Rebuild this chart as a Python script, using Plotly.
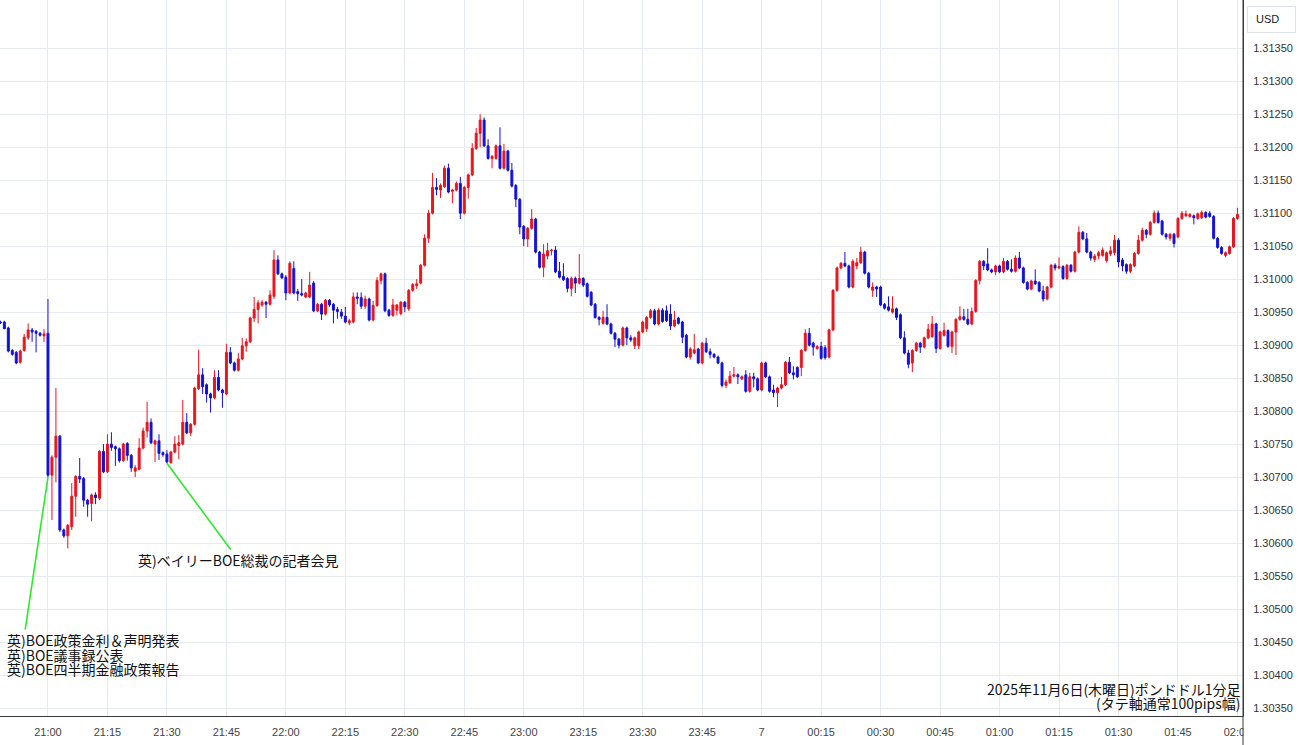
import pandas as pd
import plotly.graph_objects as go

# ---------------- data (GBP/USD 1-minute candles, 2025-11-06 20:48 -> 2025-11-07 02:00) ----------------
start_time = "2025-11-06 20:48"

opens = [
    1.30935, 1.30935, 1.30926, 1.30892, 1.30889, 1.30874, 1.30892, 1.30911, 1.30923, 1.30921,
    1.30918, 1.30914, 1.30918, 1.30703, 1.30730, 1.30762, 1.30620, 1.30611, 1.30625, 1.30671,
    1.30701, 1.30698, 1.30665, 1.30660, 1.30673, 1.30668, 1.30739, 1.30708, 1.30750, 1.30746,
    1.30743, 1.30725, 1.30751, 1.30733, 1.30709, 1.30712, 1.30744, 1.30770, 1.30783, 1.30750,
    1.30755, 1.30737, 1.30735, 1.30722, 1.30738, 1.30748, 1.30750, 1.30783, 1.30767, 1.30780,
    1.30834, 1.30855, 1.30840, 1.30826, 1.30820, 1.30851, 1.30832, 1.30826, 1.30889, 1.30873,
    1.30862, 1.30879, 1.30899, 1.30905, 1.30941, 1.30954, 1.30961, 1.30965, 1.30962, 1.30974,
    1.31029, 1.31008, 1.31003, 1.30979, 1.31016, 1.30981, 1.30978, 1.30973, 1.30973, 1.30994,
    1.30952, 1.30962, 1.30947, 1.30968, 1.30962, 1.30954, 1.30950, 1.30944, 1.30934, 1.30935,
    1.30973, 1.30972, 1.30959, 1.30970, 1.30938, 1.30960, 1.30998, 1.31008, 1.30953, 1.30945,
    1.30953, 1.30948, 1.30965, 1.30955, 1.30983, 1.30990, 1.30994, 1.31021, 1.31062, 1.31100,
    1.31139, 1.31135, 1.31140, 1.31168, 1.31133, 1.31135, 1.31145, 1.31100, 1.31139, 1.31158,
    1.31198, 1.31221, 1.31241, 1.31202, 1.31183, 1.31183, 1.31202, 1.31168, 1.31194, 1.31165,
    1.31142, 1.31121, 1.31080, 1.31061, 1.31077, 1.31091, 1.31041, 1.31018, 1.31035, 1.31043,
    1.31044, 1.31012, 1.31004, 1.31001, 1.30986, 1.31001, 1.30994, 1.31001, 1.30993, 1.30980,
    1.30962, 1.30942, 1.30933, 1.30942, 1.30932, 1.30918, 1.30909, 1.30900, 1.30926, 1.30911,
    1.30899, 1.30899, 1.30920, 1.30925, 1.30942, 1.30952, 1.30932, 1.30953, 1.30952, 1.30947,
    1.30929, 1.30941, 1.30935, 1.30915, 1.30882, 1.30888, 1.30894, 1.30873, 1.30903, 1.30890,
    1.30886, 1.30882, 1.30873, 1.30839, 1.30843, 1.30853, 1.30855, 1.30849, 1.30855, 1.30830,
    1.30852, 1.30849, 1.30832, 1.30873, 1.30852, 1.30832, 1.30828, 1.30835, 1.30840, 1.30874,
    1.30858, 1.30866, 1.30866, 1.30892, 1.30918, 1.30903, 1.30895, 1.30898, 1.30896, 1.30882,
    1.30923, 1.30983, 1.31017, 1.31024, 1.31020, 1.30988, 1.31020, 1.31025, 1.31041, 1.31009,
    1.30983, 1.30988, 1.30988, 1.30962, 1.30958, 1.30950, 1.30955, 1.30946, 1.30911, 1.30888,
    1.30873, 1.30892, 1.30903, 1.30897, 1.30911, 1.30913, 1.30932, 1.30895, 1.30915, 1.30922,
    1.30898, 1.30920, 1.30939, 1.30943, 1.30939, 1.30932, 1.30951, 1.30998, 1.31027, 1.31023,
    1.31014, 1.31011, 1.31020, 1.31011, 1.31027, 1.31015, 1.31012, 1.31032, 1.31017, 1.30995,
    1.30985, 1.30997, 1.30995, 1.30982, 1.30970, 1.30988, 1.31021, 1.31017, 1.31019, 1.31001,
    1.31021, 1.31012, 1.31041, 1.31071, 1.31061, 1.31041, 1.31030, 1.31035, 1.31036, 1.31028,
    1.31038, 1.31040, 1.31059, 1.31029, 1.31022, 1.31012, 1.31020, 1.31039, 1.31059, 1.31074,
    1.31068, 1.31086, 1.31100, 1.31088, 1.31068, 1.31062, 1.31068, 1.31064, 1.31092, 1.31096,
    1.31095, 1.31096, 1.31092, 1.31093, 1.31101, 1.31100, 1.31095, 1.31062, 1.31048, 1.31036,
    1.31039, 1.31049, 1.31092,
]

highs = [
    1.30937, 1.30937, 1.30928, 1.30894, 1.30891, 1.30893, 1.30917, 1.30933, 1.30926, 1.30923,
    1.30920, 1.30924, 1.30970, 1.30733, 1.30835, 1.30764, 1.30622, 1.30629, 1.30691, 1.30703,
    1.30729, 1.30700, 1.30667, 1.30675, 1.30677, 1.30741, 1.30750, 1.30765, 1.30768, 1.30748,
    1.30745, 1.30752, 1.30753, 1.30735, 1.30718, 1.30759, 1.30775, 1.30814, 1.30789, 1.30757,
    1.30765, 1.30739, 1.30741, 1.30740, 1.30762, 1.30764, 1.30817, 1.30797, 1.30782, 1.30837,
    1.30893, 1.30865, 1.30842, 1.30828, 1.30862, 1.30862, 1.30834, 1.30902, 1.30897, 1.30875,
    1.30888, 1.30911, 1.30910, 1.30943, 1.30973, 1.30968, 1.30968, 1.30967, 1.30983, 1.31044,
    1.31036, 1.31010, 1.31006, 1.31027, 1.31027, 1.30985, 1.31000, 1.30981, 1.31011, 1.30997,
    1.30964, 1.30964, 1.30970, 1.30970, 1.30964, 1.30958, 1.30955, 1.30958, 1.30940, 1.30980,
    1.30980, 1.30980, 1.30975, 1.30972, 1.30967, 1.31003, 1.31010, 1.31010, 1.30955, 1.30970,
    1.30962, 1.30967, 1.30967, 1.30985, 1.30994, 1.31000, 1.31023, 1.31068, 1.31105, 1.31161,
    1.31153, 1.31145, 1.31172, 1.31175, 1.31137, 1.31148, 1.31155, 1.31141, 1.31160, 1.31206,
    1.31229, 1.31250, 1.31245, 1.31212, 1.31188, 1.31204, 1.31230, 1.31205, 1.31196, 1.31176,
    1.31144, 1.31123, 1.31082, 1.31079, 1.31106, 1.31093, 1.31043, 1.31053, 1.31055, 1.31046,
    1.31050, 1.31026, 1.31024, 1.31003, 1.31004, 1.31004, 1.31038, 1.31003, 1.30995, 1.30982,
    1.30964, 1.30944, 1.30952, 1.30962, 1.30934, 1.30920, 1.30911, 1.30928, 1.30928, 1.30915,
    1.30913, 1.30922, 1.30937, 1.30944, 1.30955, 1.30955, 1.30956, 1.30956, 1.30960, 1.30962,
    1.30952, 1.30943, 1.30937, 1.30917, 1.30897, 1.30917, 1.30896, 1.30905, 1.30911, 1.30895,
    1.30888, 1.30884, 1.30875, 1.30848, 1.30861, 1.30867, 1.30857, 1.30854, 1.30862, 1.30858,
    1.30858, 1.30851, 1.30875, 1.30875, 1.30854, 1.30840, 1.30837, 1.30852, 1.30876, 1.30882,
    1.30868, 1.30868, 1.30894, 1.30924, 1.30926, 1.30905, 1.30900, 1.30905, 1.30900, 1.30925,
    1.30985, 1.31019, 1.31026, 1.31041, 1.31022, 1.31030, 1.31032, 1.31049, 1.31043, 1.31011,
    1.30995, 1.30990, 1.30990, 1.30964, 1.30974, 1.30974, 1.30957, 1.30948, 1.30921, 1.30893,
    1.30894, 1.30905, 1.30905, 1.30913, 1.30932, 1.30944, 1.30934, 1.30922, 1.30934, 1.30924,
    1.30922, 1.30941, 1.30959, 1.30955, 1.30955, 1.30957, 1.31000, 1.31029, 1.31029, 1.31047,
    1.31016, 1.31022, 1.31022, 1.31032, 1.31029, 1.31030, 1.31036, 1.31041, 1.31019, 1.30997,
    1.30999, 1.31015, 1.30997, 1.30990, 1.30990, 1.31023, 1.31024, 1.31033, 1.31021, 1.31023,
    1.31023, 1.31043, 1.31080, 1.31073, 1.31070, 1.31043, 1.31038, 1.31043, 1.31048, 1.31042,
    1.31050, 1.31067, 1.31062, 1.31032, 1.31024, 1.31024, 1.31041, 1.31067, 1.31078, 1.31076,
    1.31088, 1.31104, 1.31104, 1.31090, 1.31070, 1.31070, 1.31070, 1.31094, 1.31103, 1.31104,
    1.31100, 1.31098, 1.31101, 1.31104, 1.31103, 1.31103, 1.31097, 1.31064, 1.31050, 1.31042,
    1.31051, 1.31094, 1.31108,
]

lows = [
    1.30932, 1.30924, 1.30889, 1.30884, 1.30871, 1.30872, 1.30890, 1.30908, 1.30905, 1.30889,
    1.30913, 1.30905, 1.30700, 1.30635, 1.30692, 1.30617, 1.30608, 1.30592, 1.30620, 1.30640,
    1.30691, 1.30655, 1.30640, 1.30633, 1.30659, 1.30665, 1.30706, 1.30706, 1.30740, 1.30717,
    1.30722, 1.30723, 1.30725, 1.30708, 1.30700, 1.30710, 1.30742, 1.30760, 1.30750, 1.30723,
    1.30726, 1.30731, 1.30721, 1.30720, 1.30736, 1.30727, 1.30748, 1.30765, 1.30762, 1.30778,
    1.30832, 1.30826, 1.30813, 1.30798, 1.30818, 1.30830, 1.30805, 1.30824, 1.30871, 1.30860,
    1.30860, 1.30877, 1.30890, 1.30903, 1.30935, 1.30933, 1.30958, 1.30941, 1.30960, 1.30970,
    1.31006, 1.31000, 1.30968, 1.30977, 1.30977, 1.30967, 1.30974, 1.30971, 1.30971, 1.30950,
    1.30950, 1.30938, 1.30945, 1.30958, 1.30933, 1.30940, 1.30940, 1.30933, 1.30930, 1.30933,
    1.30962, 1.30955, 1.30955, 1.30936, 1.30936, 1.30958, 1.30992, 1.30950, 1.30943, 1.30943,
    1.30945, 1.30945, 1.30950, 1.30952, 1.30981, 1.30985, 1.30992, 1.31019, 1.31055, 1.31098,
    1.31127, 1.31123, 1.31138, 1.31130, 1.31115, 1.31133, 1.31091, 1.31098, 1.31122, 1.31156,
    1.31196, 1.31200, 1.31200, 1.31181, 1.31168, 1.31181, 1.31166, 1.31166, 1.31163, 1.31139,
    1.31109, 1.31068, 1.31050, 1.31049, 1.31075, 1.31039, 1.31016, 1.31003, 1.31030, 1.31036,
    1.31009, 1.31001, 1.30997, 1.30980, 1.30974, 1.30979, 1.30992, 1.30988, 1.30972, 1.30959,
    1.30940, 1.30930, 1.30931, 1.30930, 1.30916, 1.30897, 1.30895, 1.30898, 1.30900, 1.30905,
    1.30894, 1.30894, 1.30918, 1.30920, 1.30940, 1.30930, 1.30930, 1.30934, 1.30935, 1.30923,
    1.30927, 1.30931, 1.30903, 1.30880, 1.30878, 1.30886, 1.30871, 1.30871, 1.30888, 1.30880,
    1.30880, 1.30871, 1.30836, 1.30835, 1.30841, 1.30851, 1.30841, 1.30847, 1.30828, 1.30828,
    1.30836, 1.30830, 1.30830, 1.30850, 1.30828, 1.30821, 1.30806, 1.30833, 1.30838, 1.30856,
    1.30848, 1.30850, 1.30853, 1.30890, 1.30898, 1.30884, 1.30893, 1.30878, 1.30878, 1.30880,
    1.30921, 1.30981, 1.31015, 1.31018, 1.30986, 1.30986, 1.31015, 1.31023, 1.31007, 1.30986,
    1.30973, 1.30973, 1.30959, 1.30954, 1.30951, 1.30948, 1.30938, 1.30909, 1.30886, 1.30865,
    1.30859, 1.30890, 1.30888, 1.30895, 1.30909, 1.30911, 1.30888, 1.30893, 1.30913, 1.30896,
    1.30888, 1.30885, 1.30937, 1.30937, 1.30930, 1.30930, 1.30949, 1.30992, 1.31014, 1.31012,
    1.31009, 1.31006, 1.31009, 1.31009, 1.31013, 1.31010, 1.31010, 1.31015, 1.30993, 1.30983,
    1.30983, 1.30991, 1.30980, 1.30966, 1.30968, 1.30986, 1.31013, 1.31015, 1.30999, 1.30999,
    1.31010, 1.31010, 1.31039, 1.31059, 1.31039, 1.31028, 1.31026, 1.31030, 1.31034, 1.31025,
    1.31035, 1.31036, 1.31018, 1.31012, 1.31008, 1.31009, 1.31018, 1.31037, 1.31057, 1.31062,
    1.31066, 1.31084, 1.31084, 1.31066, 1.31060, 1.31058, 1.31048, 1.31062, 1.31090, 1.31094,
    1.31093, 1.31083, 1.31090, 1.31091, 1.31092, 1.31093, 1.31060, 1.31046, 1.31037, 1.31033,
    1.31037, 1.31047, 1.31090,
]

closes = [
    1.30934, 1.30925, 1.30891, 1.30886, 1.30873, 1.30891, 1.30912, 1.30923, 1.30920, 1.30918,
    1.30915, 1.30917, 1.30703, 1.30730, 1.30762, 1.30620, 1.30611, 1.30627, 1.30671, 1.30701,
    1.30697, 1.30665, 1.30659, 1.30673, 1.30669, 1.30739, 1.30708, 1.30750, 1.30745, 1.30743,
    1.30725, 1.30750, 1.30733, 1.30714, 1.30714, 1.30744, 1.30770, 1.30783, 1.30752, 1.30755,
    1.30736, 1.30734, 1.30723, 1.30738, 1.30750, 1.30752, 1.30783, 1.30767, 1.30780, 1.30835,
    1.30855, 1.30837, 1.30826, 1.30820, 1.30851, 1.30832, 1.30828, 1.30889, 1.30873, 1.30862,
    1.30879, 1.30899, 1.30905, 1.30941, 1.30954, 1.30964, 1.30965, 1.30962, 1.30976, 1.31029,
    1.31008, 1.31002, 1.30979, 1.31024, 1.30979, 1.30978, 1.30976, 1.30979, 1.30991, 1.30952,
    1.30962, 1.30947, 1.30968, 1.30961, 1.30953, 1.30951, 1.30944, 1.30935, 1.30937, 1.30973,
    1.30971, 1.30959, 1.30970, 1.30938, 1.30960, 1.30998, 1.31008, 1.30952, 1.30945, 1.30961,
    1.30961, 1.30965, 1.30958, 1.30983, 1.30992, 1.30993, 1.31021, 1.31062, 1.31100, 1.31139,
    1.31136, 1.31142, 1.31168, 1.31132, 1.31135, 1.31145, 1.31100, 1.31139, 1.31158, 1.31198,
    1.31221, 1.31241, 1.31202, 1.31183, 1.31186, 1.31202, 1.31168, 1.31194, 1.31165, 1.31141,
    1.31121, 1.31079, 1.31061, 1.31077, 1.31091, 1.31041, 1.31018, 1.31038, 1.31043, 1.31044,
    1.31011, 1.31003, 1.30999, 1.30986, 1.31001, 1.30994, 1.31001, 1.30991, 1.30974, 1.30961,
    1.30942, 1.30939, 1.30942, 1.30932, 1.30918, 1.30909, 1.30900, 1.30926, 1.30911, 1.30908,
    1.30911, 1.30920, 1.30935, 1.30942, 1.30952, 1.30932, 1.30953, 1.30936, 1.30937, 1.30929,
    1.30938, 1.30933, 1.30912, 1.30882, 1.30894, 1.30893, 1.30873, 1.30903, 1.30890, 1.30886,
    1.30882, 1.30873, 1.30839, 1.30844, 1.30853, 1.30855, 1.30852, 1.30852, 1.30830, 1.30852,
    1.30849, 1.30832, 1.30873, 1.30852, 1.30830, 1.30828, 1.30835, 1.30840, 1.30874, 1.30858,
    1.30855, 1.30852, 1.30892, 1.30918, 1.30900, 1.30897, 1.30898, 1.30880, 1.30881, 1.30923,
    1.30983, 1.31017, 1.31024, 1.31020, 1.30988, 1.31027, 1.31025, 1.31041, 1.31009, 1.30988,
    1.30988, 1.30985, 1.30961, 1.30956, 1.30953, 1.30955, 1.30942, 1.30911, 1.30888, 1.30871,
    1.30892, 1.30903, 1.30897, 1.30911, 1.30924, 1.30932, 1.30895, 1.30920, 1.30922, 1.30898,
    1.30920, 1.30939, 1.30943, 1.30939, 1.30932, 1.30951, 1.30998, 1.31027, 1.31020, 1.31014,
    1.31011, 1.31020, 1.31011, 1.31027, 1.31015, 1.31012, 1.31032, 1.31017, 1.30995, 1.30985,
    1.30997, 1.30993, 1.30982, 1.30970, 1.30988, 1.31021, 1.31017, 1.31019, 1.31001, 1.31021,
    1.31012, 1.31041, 1.31071, 1.31061, 1.31041, 1.31032, 1.31035, 1.31040, 1.31044, 1.31040,
    1.31043, 1.31059, 1.31026, 1.31020, 1.31012, 1.31022, 1.31039, 1.31059, 1.31074, 1.31068,
    1.31086, 1.31100, 1.31086, 1.31068, 1.31064, 1.31068, 1.31054, 1.31092, 1.31100, 1.31099,
    1.31098, 1.31093, 1.31099, 1.31101, 1.31094, 1.31095, 1.31062, 1.31048, 1.31039, 1.31040,
    1.31049, 1.31092, 1.31098,
]

price_tickvals = [1.30350, 1.30400, 1.30450, 1.30500, 1.30550, 1.30600, 1.30650, 1.30700,
                  1.30750, 1.30800, 1.30850, 1.30900, 1.30950, 1.31000, 1.31050, 1.31100,
                  1.31150, 1.31200, 1.31250, 1.31300, 1.31350]

time_tickvals = ["2025-11-06 21:00", "2025-11-06 21:15", "2025-11-06 21:30", "2025-11-06 21:45",
                 "2025-11-06 22:00", "2025-11-06 22:15", "2025-11-06 22:30", "2025-11-06 22:45",
                 "2025-11-06 23:00", "2025-11-06 23:15", "2025-11-06 23:30", "2025-11-06 23:45",
                 "2025-11-07 00:00", "2025-11-07 00:15", "2025-11-07 00:30", "2025-11-07 00:45",
                 "2025-11-07 01:00", "2025-11-07 01:15", "2025-11-07 01:30", "2025-11-07 01:45",
                 "2025-11-07 02:00"]
time_ticktext = ["21:00", "21:15", "21:30", "21:45", "22:00", "22:15", "22:30", "22:45",
                 "23:00", "23:15", "23:30", "23:45", "7", "00:15", "00:30", "00:45",
                 "01:00", "01:15", "01:30", "01:45", "02:00"]

event_boe_time = "2025-11-06 21:00"
event_bailey_time = "2025-11-06 21:30"
event_boe_lines = ["英)BOE政策金利＆声明発表", "英)BOE議事録公表", "英)BOE四半期金融政策報告"]
event_bailey_text = "英)ベイリーBOE総裁の記者会見"
caption_lines = ["2025年11月6日(木曜日)ポンドドル1分足", "(タテ軸通常100pips幅)"]

assert len(opens) == len(highs) == len(lows) == len(closes)

# ---------------- figure ----------------
RED = "#e8151d"
BLUE = "#1212d6"
GREEN = "#2ee82e"
GRID = "#e6ebf1"
AXIS = "#3a3a3a"
JP_FONT = "Noto Sans CJK JP"
TICK_FONT = "Liberation Sans, Arial, sans-serif"

times = pd.date_range(start=start_time, periods=len(opens), freq="min")
t_index = {str(t)[:16]: i for i, t in enumerate(times)}

fig = go.Figure()
fig.add_trace(go.Candlestick(
    x=times, open=opens, high=highs, low=lows, close=closes,
    increasing=dict(line=dict(color=RED, width=1), fillcolor=RED),
    decreasing=dict(line=dict(color=BLUE, width=1), fillcolor=BLUE),
    whiskerwidth=0, showlegend=False, hoverinfo="skip",
))

W, H = 1300, 745
ML, MR, MT, MB = 0, 57, 0, 29
PW, PH = W - ML - MR, H - MT - MB


def px(x):
    return x / PW


def py(y):
    return (PH - y) / PH


i_boe = t_index[event_boe_time]
i_bai = t_index[event_bailey_time]

annotations = [
    dict(x=times[i_boe], y=lows[i_boe], xref="x", yref="y", text="", showarrow=True,
         arrowhead=0, arrowwidth=1.6, arrowcolor=GREEN, ax=-23, ay=154, standoff=0),
    dict(x=times[i_bai], y=lows[i_bai], xref="x", yref="y", text="", showarrow=True,
         arrowhead=0, arrowwidth=1.6, arrowcolor=GREEN, ax=65, ay=88, standoff=0),
    dict(x=px(136), y=py(560), xref="paper", yref="paper", text=event_bailey_text,
         showarrow=False, xanchor="left", yanchor="middle",
         font=dict(family=JP_FONT, size=14, color="#111111")),
]
for k, line in enumerate(event_boe_lines):
    annotations.append(dict(x=px(6), y=py(640 + 14.5 * k), xref="paper", yref="paper", text=line,
                            showarrow=False, xanchor="left", yanchor="middle", borderpad=0,
                            font=dict(family=JP_FONT, size=14, color="#111111")))
for k, line in enumerate(caption_lines):
    annotations.append(dict(x=px(1242), y=py(689 + 14 * k), xref="paper", yref="paper", text=line,
                            showarrow=False, xanchor="right", yanchor="middle", borderpad=0,
                            font=dict(family=JP_FONT, size=14, color="#111111")))
annotations.append(dict(x=px(1267), y=py(19), xref="paper", yref="paper", text="USD",
                        showarrow=False, xanchor="center", yanchor="middle",
                        font=dict(family=TICK_FONT, size=11, color="#222222")))

shapes = [
    # USD badge
    dict(type="rect", xref="paper", yref="paper", x0=px(1247.5), x1=px(1295.5),
         y0=py(32.5), y1=py(6.5), line=dict(color="#dde2e8", width=1), fillcolor="white",
         layer="above"),
    # clip tick label overflow to the right of the plot
    dict(type="rect", xref="paper", yref="paper", x0=px(1243.6), x1=px(1300),
         y0=py(PH + MB), y1=py(PH + 0.6), line=dict(width=0), fillcolor="white", layer="above"),
    # price-axis separator, running down through the time-label strip
    dict(type="line", xref="paper", yref="paper", x0=1, x1=1, y0=py(PH + MB), y1=1,
         line=dict(color=AXIS, width=1), layer="above"),
]

fig.update_layout(
    width=W, height=H,
    margin=dict(l=ML, r=MR, t=MT, b=MB, pad=0, autoexpand=False),
    paper_bgcolor="white", plot_bgcolor="white",
    showlegend=False, hovermode=False,
    annotations=annotations, shapes=shapes,
    xaxis=dict(
        type="date",
        range=["2025-11-06 20:47:54", "2025-11-07 02:01:24"],
        rangeslider=dict(visible=False),
        tickmode="array", tickvals=time_tickvals, ticktext=time_ticktext,
        showgrid=True, gridcolor=GRID, gridwidth=1,
        showline=True, linecolor=AXIS, linewidth=1,
        ticks="", ticklabelstandoff=6,
        tickfont=dict(family=TICK_FONT, size=11, color="#444444"),
        zeroline=False, fixedrange=True,
    ),
    yaxis=dict(
        side="right",
        range=[1.30338, 1.31423],
        tickmode="array", tickvals=price_tickvals,
        ticktext=[f"{v:.5f}" for v in price_tickvals],
        showgrid=True, gridcolor=GRID, gridwidth=1,
        showline=True, linecolor=AXIS, linewidth=1,
        ticks="", ticklabelstandoff=7,
        tickfont=dict(family=TICK_FONT, size=11, color="#333333"),
        zeroline=False, fixedrange=True,
    ),
)

fig.write_html("out.html", config={"displayModeBar": False},
               post_script="document.body.style.margin='0px';")
